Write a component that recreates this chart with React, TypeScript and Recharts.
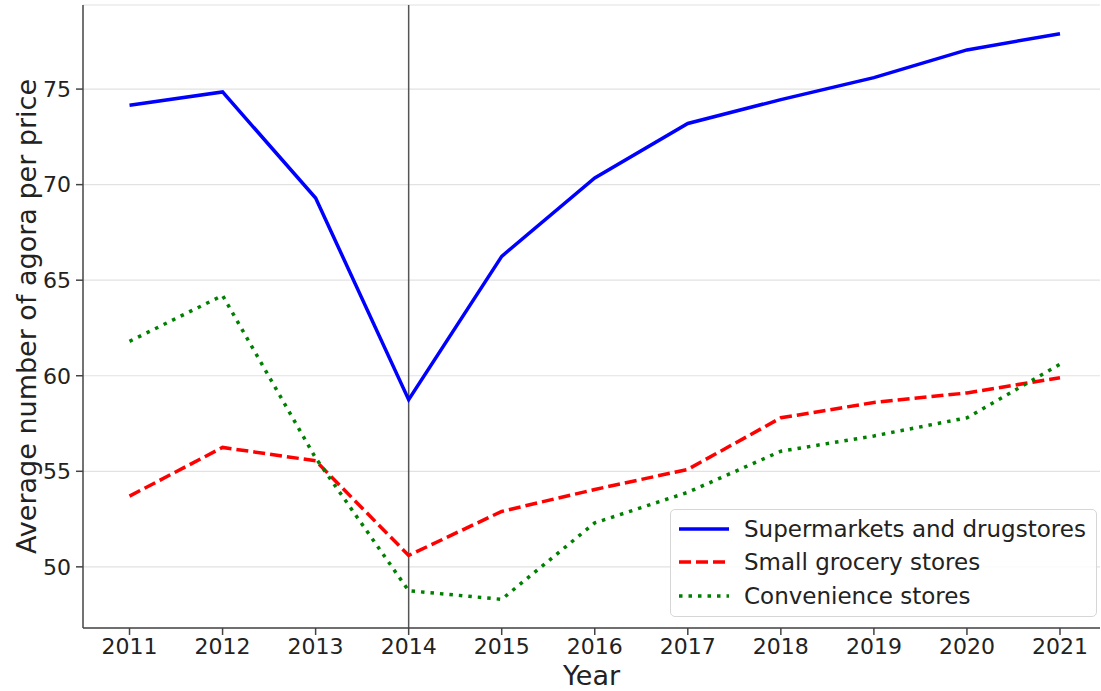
import {
  LineChart,
  Line,
  XAxis,
  YAxis,
  CartesianGrid,
  ReferenceLine,
} from "recharts";

document.body.style.margin = "0";

const years = [2011, 2012, 2013, 2014, 2015, 2016, 2017, 2018, 2019, 2020, 2021];
const supermarkets = [74.15, 74.85, 69.3, 58.75, 66.25, 70.35, 73.2, 74.45, 75.6, 77.05, 77.9];
const smallGrocery = [53.7, 56.25, 55.55, 50.6, 52.9, 54.05, 55.1, 57.8, 58.6, 59.1, 59.9];
const convenience = [61.8, 64.2, 55.7, 48.75, 48.3, 52.3, 53.9, 56.05, 56.85, 57.8, 60.6];
const yTicks = [50, 55, 60, 65, 70, 75];

const seriesInfo = [
  { key: "supermarkets", name: "Supermarkets and drugstores", color: "#0000ff", dash: undefined },
  { key: "smallGrocery", name: "Small grocery stores", color: "#ff0000", dash: "12 5" },
  { key: "convenience", name: "Convenience stores", color: "#008000", dash: "3.5 6" },
];

const data = years.map((year, i) => ({
  year,
  supermarkets: supermarkets[i],
  smallGrocery: smallGrocery[i],
  convenience: convenience[i],
}));

const FONT = "'DejaVu Sans', sans-serif";

function LegendBox() {
  return (
    <div
      style={{
        position: "absolute",
        left: 670,
        top: 509,
        border: "1px solid #d6d6d6",
        borderRadius: 5,
        background: "rgba(255,255,255,0.85)",
        padding: "2px 10px 3px 8px",
        fontFamily: FONT,
        fontSize: 23,
        color: "#222",
      }}
    >
      {seriesInfo.map((s) => (
        <div key={s.key} style={{ display: "flex", alignItems: "center", height: 33.5 }}>
          <svg width={50} height={10} style={{ marginRight: 15 }}>
            <line
              x1={0}
              y1={5}
              x2={50}
              y2={5}
              stroke={s.color}
              strokeWidth={3.5}
              strokeDasharray={s.dash}
            />
          </svg>
          <span>{s.name}</span>
        </div>
      ))}
    </div>
  );
}

export default function App() {
  return (
    <div style={{ position: "relative", width: 1101, height: 691, background: "#fff" }}>
      <LineChart
        width={1101}
        height={691}
        data={data}
        margin={{ top: 5, right: 1, left: 0, bottom: 0 }}
      >
        <CartesianGrid vertical={false} stroke="#e2e2e2" strokeWidth={1.2} />
        <XAxis
          dataKey="year"
          type="number"
          domain={[2010.5, 2021.43]}
          ticks={years}
          allowDataOverflow
          height={63}
          tickSize={7}
          tickMargin={3}
          stroke="#444"
          strokeWidth={1.5}
          tick={{ fontSize: 22, fill: "#222", fontFamily: FONT }}
          label={{
            value: "Year",
            position: "insideBottom",
            offset: 6,
            fontSize: 27,
            fill: "#222",
            fontFamily: FONT,
          }}
        />
        <XAxis
          xAxisId="top"
          orientation="top"
          dataKey="year"
          type="number"
          domain={[2010.5, 2021.43]}
          height={0}
          tick={false}
          tickLine={false}
          stroke="#444"
          strokeWidth={1.5}
        />
        <YAxis
          type="number"
          domain={[46.8, 79.4]}
          ticks={yTicks}
          allowDataOverflow
          width={83}
          tickSize={7}
          tickMargin={5}
          stroke="#444"
          strokeWidth={1.5}
          tick={{ fontSize: 22, fill: "#222", fontFamily: FONT }}
          label={{
            value: "Average number of agora per price",
            angle: -90,
            position: "center",
            dx: -15,
            textAnchor: "middle",
            fontSize: 27,
            fill: "#222",
            fontFamily: FONT,
          }}
        />
        <ReferenceLine x={2014} stroke="#555" strokeWidth={1.5} />
        {seriesInfo.map((s) => (
          <Line
            key={s.key}
            type="linear"
            dataKey={s.key}
            name={s.name}
            stroke={s.color}
            strokeWidth={3.5}
            strokeDasharray={s.dash}
            dot={false}
            activeDot={false}
            isAnimationActive={false}
          />
        ))}
      </LineChart>
      <LegendBox />
    </div>
  );
}
